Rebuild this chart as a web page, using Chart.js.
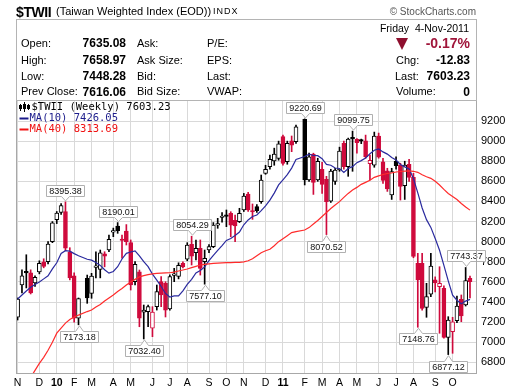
<!DOCTYPE html>
<html lang="en">
<head>
  <meta charset="UTF-8">
  <title>$TWII Weekly</title>
  <script src="https://cdn.jsdelivr.net/npm/chart.js"></script>
  <style>
    body {
      margin: 0;
      background: #fff;
      font-family: 'Liberation Sans', Arial, sans-serif;
    }
    #wrap {
      position: relative;
      width: 520px;
      height: 391px;
      overflow: hidden;
    }
    #chart { position: absolute; left: 0; top: 0; }
    .t { position: absolute; white-space: nowrap; line-height: 1; color: #000; }
    .lbl { font-size: 11px; }
    .val { font-size: 12px; font-weight: bold; }
    #info {
      position: absolute;
      left: 16px; top: 19px;
      width: 461px; height: 82px;
      box-sizing: border-box;
      border: 1px solid #b4b4b4;
    }
    #arrow {
      position: absolute;
      left: 396px; top: 38px;
      width: 0; height: 0;
      border-left: 6.5px solid transparent;
      border-right: 6.5px solid transparent;
      border-top: 12px solid #8e0f2e;
    }
  </style>
</head>
<body>
<div id="wrap">
  <canvas id="chart" width="520" height="391"></canvas>
  <div id="info"></div>

  <div class="t" style="left:16px;top:5px;font-size:14px;font-weight:bold;letter-spacing:-0.4px">$TWII</div>
  <div class="t" style="left:56px;top:6px;font-size:11px">(Taiwan Weighted Index (EOD))</div>
  <div class="t" style="left:213px;top:7px;font-size:9px;letter-spacing:1px">INDX</div>
  <div class="t" style="right:44px;top:7px;font-size:10px;color:#555">© StockCharts.com</div>

  <div class="t lbl" style="left:21px;top:38px">Open:</div>
  <div class="t lbl" style="left:21px;top:55px">High:</div>
  <div class="t lbl" style="left:21px;top:71px">Low:</div>
  <div class="t lbl" style="left:21px;top:86px">Prev Close:</div>
  <div class="t val" style="right:394px;top:37px">7635.08</div>
  <div class="t val" style="right:394px;top:54px">7658.97</div>
  <div class="t val" style="right:394px;top:70px">7448.28</div>
  <div class="t val" style="right:394px;top:86px">7616.06</div>

  <div class="t lbl" style="left:137px;top:38px">Ask:</div>
  <div class="t lbl" style="left:137px;top:55px">Ask Size:</div>
  <div class="t lbl" style="left:137px;top:71px">Bid:</div>
  <div class="t lbl" style="left:137px;top:86px">Bid Size:</div>
  <div class="t lbl" style="left:207px;top:38px">P/E:</div>
  <div class="t lbl" style="left:207px;top:55px">EPS:</div>
  <div class="t lbl" style="left:207px;top:71px">Last:</div>
  <div class="t lbl" style="left:207px;top:86px">VWAP:</div>

  <div class="t" style="right:51px;top:23px;font-size:10.5px">Friday&nbsp; 4-Nov-2011</div>
  <div id="arrow"></div>
  <div class="t" style="right:50px;top:36px;font-size:14px;font-weight:bold;color:#a0153a">-0.17%</div>
  <div class="t lbl" style="left:396px;top:55px">Chg:</div>
  <div class="t lbl" style="left:395px;top:71px">Last:</div>
  <div class="t lbl" style="left:396px;top:86px">Volume:</div>
  <div class="t val" style="right:50px;top:54px">-12.83</div>
  <div class="t val" style="right:50px;top:70px">7603.23</div>
  <div class="t val" style="right:50px;top:86px">0</div>
</div>

<script>
  // weekly bars, first week ends Fri 6-Nov-2009, last ends Fri 4-Nov-2011
  const firstWeek = Date.UTC(2009, 10, 6);
  const weekCount = 105;

  const open = [
    7250, 7570, 7705, 7690, 7590, 7700, 7800, 7800, 8000, 8220,
    8290, 8300, 7900, 7660, 7240, null, 7636, 7486, 7745, 7725,
    7880, 7917, 8095, 8155, 8025, 8106, 7990, 7602, 7700, 7300,
    7304, 7140, 7354, 7602, 7586, 7330, 7665, 7655, 7785, 7825,
    7974, 7890, 7934, 7801, 7917, 7950, 8165, 8240, 8265, 8282,
    8212, 8199, 8315, 8474, 8310, 8348, 8397, 8680, 8745, 8802,
    8829, 9044, 8795, 9004, 8994, null, 9217, 8613, 8870, 8613,
    8720, 8620, 8404, 8600, 8713, 8978, 8745, 9028, 9018, 9010,
    9004, 8775, 8762, 9050, 8795, 8705, 8464, 8800, 8762, 8557,
    8769, 8640, 7785, 7785, 7347, 7477, 7620, 7553, 7536, 7049,
    7105, 7214, 7427, 7370, 7636
  ];
  const high = [
    7440, 7720, 7870, 7720, 7660, 7810, 7830, 8000, 8200, 8300,
    8380, 8395.38, 7940, 7690, 7440, null, 7668, 7685, 7900, 7917,
    7900, 8066, 8135, 8190.01, 8066, 8170, 8017, 7801, 7718, 7370,
    7370, 7354, 7569, 7652, 7602, 7670, 7735, 7790, 7800, 7990,
    8054.29, 8017, 8017, 7917, 7970, 8190, 8232, 8290, 8315, 8298,
    8265, 8332, 8480, 8490, 8375, 8370, 8663, 8760, 8860, 8930,
    9000, 9060, 9000, 9051, 9160, null, 9220.69, 8880, 8880, 8830,
    8790, 8650, 8720, 8730, 8940, 9000, 9030, 9099.75, 9025, 9020,
    9060, 8862, 9090, 9080, 8830, 8730, 8730, 8845, 8780, 8800,
    8820, 8680, 7884, 7884, 7586, 7884, 7650, 7751, 7560, 7254,
    7248, 7460, 7470, 7743.37, 7659
  ];
  const low = [
    7221, 7490, 7540, 7480, 7555, 7680, 7740, 7780, 7990, 8180,
    8270, 7910, 7620, 7200, 7173.18, null, 7387, 7437, 7640, 7640,
    7750, 7900, 8050, 8083, 7835, 7967, 7519, 7569, 7154, 7032.40,
    7154, 7055, 7320, 7354, 7251, 7320, 7602, 7630, 7740, 7810,
    7768, 7818, 7668, 7577.10, 7890, 7940, 8133, 8195, 8149, 8049,
    8000, 8190, 8300, 8300, 8222, 8290, 8381, 8670, 8720, 8760,
    8810, 8760, 8770, 8895, 8978, null, 8564, 8600, 8470, 8600,
    8480, 8070.52, 8390, 8570, 8700, 8720, 8650, 8700, 8880, 8975,
    8830, 8613, 8740, 8830, 8580, 8500, 8420, 8720, 8414, 8420,
    8600, 7840, 7148.76, 7320, 7248, 7453, 7500, 7089, 7040, 6877.12,
    6890, 7194, 7204, 7360, 7440
  ];
  const close = [
    7430, 7660, 7690, 7490, 7645, 7785, 7755, 7975, 8188, 8285,
    8360, 7935, 7640, 7240, 7435, null, 7440, 7659, 7752, 7890,
    7855, 8024, 8100, 8110, 8012, 8000, 7570, 7775, 7240, 7320,
    7354, 7300, 7503, 7470, 7320, 7652, 7678, 7765, 7748, 7967,
    7857, 7934, 7735, 7835, 7950, 8166, 8172, 8250, 8252, 8165,
    8156, 8282, 8454, 8315, 8295, 8308, 8613, 8720, 8819, 8872,
    8972, 8779, 8978, 8961, 9143, null, 8613, 8845, 8590, 8800,
    8570, 8397, 8702, 8713, 8902, 8745, 9020, 9022, 8985, 9000,
    8845, 8810, 9051, 8840, 8610, 8525, 8696, 8755, 8550, 8762,
    8640, 7853, 7620, 7337, 7453, 7758, 7590, 7586, 7049, 7221,
    7204, 7360, 7261, 7612, 7603.23
  ];
  const ma10 = [
    7430, 7470, 7510, 7546, 7575, 7600, 7630, 7660, 7730, 7790,
    7883, 7911, 7906, 7881, 7860, null, 7825, 7816, 7793, 7764,
    7721, 7687, 7704, 7751, 7828, 7884, 7897, 7909, 7858, 7801,
    7751, 7678, 7618, 7554, 7485, 7450, 7461, 7460, 7511, 7576,
    7626, 7689, 7713, 7749, 7812, 7864, 7913, 7961, 8012, 8032,
    8062, 8096, 8168, 8216, 8251, 8265, 8309, 8356, 8413, 8483,
    8565, 8615, 8667, 8732, 8817, null, 8847, 8870, 8857, 8855,
    8825, 8768, 8760, 8733, 8728, 8688, 8728, 8746, 8786, 8806,
    8833, 8874, 8909, 8922, 8893, 8871, 8838, 8812, 8768, 8744,
    8724, 8628, 8485, 8335, 8219, 8142, 8032, 7915, 7765, 7611,
    7467, 7418, 7382, 7409, 7426.05
  ];
  const ma40 = [
    6450, 6520, 6590, 6650, 6720, 6790, 6850, 6920, 7000, 7090,
    7140, 7190, 7225, 7250, 7270, null, 7305, 7320, 7350, 7375,
    7410, 7440, 7470, 7505, 7535, 7569, 7600, 7625, 7650, 7662,
    7672, 7680, 7685, 7688, 7690, 7691, 7698, 7708, 7718, 7728,
    7742, 7755, 7768, 7775, 7780, 7785, 7787, 7789, 7791, 7792,
    7794, 7795, 7800, 7810, 7830, 7860, 7890, 7910, 7925, 7960,
    8000, 8030, 8060, 8090, 8100, null, 8116, 8140, 8175, 8210,
    8250, 8290, 8330, 8365, 8398, 8440, 8480, 8514, 8540, 8570,
    8590, 8610, 8640, 8655, 8668, 8678, 8685, 8693, 8698, 8702,
    8705, 8700, 8690, 8665, 8646, 8630, 8600, 8564, 8520, 8480,
    8450, 8420, 8380, 8345, 8313.69
  ];
  const yTicks = [6800, 7000, 7200, 7400, 7600, 7800, 8000, 8200, 8400, 8600, 8800, 9000, 9200];
  const monthNames = ['J', 'F', 'M', 'A', 'M', 'J', 'J', 'A', 'S', 'O', 'N', 'D'];
  // bars whose high / low get a value tag
  const highMarks = [11, 23, 40, 66, 77, 103];
  const lowMarks = [14, 29, 43, 71, 92, 99];

  const RED = '#cf0a3c';
  const BLACK = '#000000';
  const BLUE = '#2a2a9e';
  const MA_RED = '#ff2b2b';

  // month ticks: first week whose Monday falls in a new month
  const monthTicks = [];
  let lastMonth = -1;
  for (let i = 0; i < weekCount; i++) {
    const monday = new Date(firstWeek + (i * 7 - 4) * 864e5);
    const m = monday.getUTCMonth();
    if (m !== lastMonth) {
      const year = m === 0;
      monthTicks.push({
        i,
        text: year ? String(monday.getUTCFullYear()).slice(2) : monthNames[m],
        year
      });
      lastMonth = m;
    }
  }
  const tickText = {};
  monthTicks.forEach(t => { tickText[t.i] = t; });

  const bars = [];
  for (let i = 0; i < weekCount; i++) if (close[i] != null) bars.push(i);

  function colorOf(i) {
    const prev = close[i - 1];
    return (prev != null && close[i] < prev) ? RED : BLACK;
  }
  function fillOf(i) {
    return close[i] < open[i] ? colorOf(i) : '#ffffff';
  }

  const overlay = {
    id: 'overlay',
    afterDatasetsDraw(chart) {
      const { ctx, scales: { x, y } } = chart;
      ctx.save();
      ctx.font = '9px "Liberation Sans", Arial, sans-serif';
      ctx.textAlign = 'center';
      ctx.textBaseline = 'middle';
      const tag = (i, v, above) => {
        const cx = x.getPixelForValue(i);
        const py = y.getPixelForValue(v);
        const txt = v.toFixed(2);
        const w = Math.round(ctx.measureText(txt).width) + 5;
        const h = 11;
        const bx = Math.round(cx - w / 2) + 0.5;
        const px = Math.round(cx) + 0.5;
        ctx.beginPath();
        let top;
        if (above) {
          const bottom = Math.round(py - 6) + 0.5;
          top = bottom - h;
          ctx.moveTo(bx, top);
          ctx.lineTo(bx + w, top);
          ctx.lineTo(bx + w, bottom);
          ctx.lineTo(px + 4, bottom);
          ctx.lineTo(px, py - 1);
          ctx.lineTo(px - 4, bottom);
          ctx.lineTo(bx, bottom);
        } else {
          top = Math.round(py + 6) + 0.5;
          ctx.moveTo(bx, top);
          ctx.lineTo(px - 4, top);
          ctx.lineTo(px, py + 1);
          ctx.lineTo(px + 4, top);
          ctx.lineTo(bx + w, top);
          ctx.lineTo(bx + w, top + h);
          ctx.lineTo(bx, top + h);
        }
        ctx.closePath();
        ctx.fillStyle = '#ffffff';
        ctx.fill();
        ctx.strokeStyle = '#b0b0b0';
        ctx.lineWidth = 1;
        ctx.stroke();
        ctx.fillStyle = '#111';
        ctx.fillText(txt, bx + w / 2, top + h / 2 + 0.5);
      };
      highMarks.forEach(i => tag(i, high[i], true));
      lowMarks.forEach(i => tag(i, low[i], false));
      ctx.restore();
    },
    afterDraw(chart) {
      const { ctx, chartArea: a } = chart;
      ctx.save();
      // plot frame
      ctx.strokeStyle = '#a8a8a8';
      ctx.lineWidth = 1;
      ctx.strokeRect(a.left + 0.5, a.top + 0.5, a.right - a.left - 1, a.bottom - a.top - 1);

      // legend
      ctx.fillStyle = BLACK;
      ctx.strokeStyle = BLACK;
      ctx.beginPath();
      ctx.moveTo(20.5, 104); ctx.lineTo(20.5, 111);
      ctx.moveTo(24.5, 102); ctx.lineTo(24.5, 112);
      ctx.moveTo(28.5, 104); ctx.lineTo(28.5, 110);
      ctx.stroke();
      ctx.fillRect(19, 105, 3, 4);
      ctx.fillRect(23, 104, 3, 5);
      ctx.strokeRect(27.5, 105.5, 2, 3);

      ctx.font = '10.5px "DejaVu Sans Mono", monospace';
      ctx.textAlign = 'left';
      ctx.textBaseline = 'middle';
      const last = weekCount - 1;
      ctx.fillText('$TWII (Weekly) ' + close[last].toFixed(2), 31.5, 107.5);

      ctx.lineWidth = 2;
      ctx.strokeStyle = '#1c1c8c';
      ctx.beginPath(); ctx.moveTo(19.5, 118.5); ctx.lineTo(28.5, 118.5); ctx.stroke();
      ctx.fillStyle = '#1c1c8c';
      ctx.fillText('MA(10) ' + ma10[last].toFixed(2), 29.5, 118.5);

      ctx.strokeStyle = '#f01010';
      ctx.beginPath(); ctx.moveTo(19.5, 129.5); ctx.lineTo(28.5, 129.5); ctx.stroke();
      ctx.fillStyle = '#f01010';
      ctx.fillText('MA(40) ' + ma40[last].toFixed(2), 29.5, 129.5);
      ctx.restore();
    }
  };

  Chart.defaults.font.family = "'Liberation Sans', Arial, sans-serif";
  Chart.defaults.color = '#000';

  new Chart(document.getElementById('chart'), {
    type: 'bar',
    data: {
      datasets: [
        {
          type: 'line',
          label: 'MA(40)',
          data: ma40.map((v, i) => ({ x: i, y: v })),
          borderColor: MA_RED,
          borderWidth: 1.2,
          pointRadius: 0,
          spanGaps: true,
          order: 0
        },
        {
          type: 'line',
          label: 'MA(10)',
          data: ma10.map((v, i) => ({ x: i, y: v })),
          borderColor: BLUE,
          borderWidth: 1.2,
          pointRadius: 0,
          spanGaps: true,
          order: 0
        },
        {
          label: 'wick',
          data: bars.map(i => ({ x: i, y: [low[i], high[i]] })),
          backgroundColor: c => colorOf(c.raw.x),
          barThickness: 1,
          grouped: false,
          order: 2
        },
        {
          label: 'body',
          data: bars.map(i => ({ x: i, y: [open[i], close[i]] })),
          backgroundColor: c => fillOf(c.raw.x),
          borderColor: c => colorOf(c.raw.x),
          borderWidth: 1,
          borderSkipped: false,
          barThickness: 4,
          minBarLength: 1.5,
          grouped: false,
          order: 1
        }
      ]
    },
    options: {
      responsive: false,
      animation: false,
      layout: { padding: { left: 16, top: 100, right: 0, bottom: 0 } },
      plugins: {
        legend: { display: false },
        tooltip: { enabled: false }
      },
      scales: {
        x: {
          type: 'linear',
          min: -0.37,
          max: 105.61,
          offset: false,
          border: { display: false },
          grid: { color: '#d9d9d9', drawTicks: false, offset: false },
          afterBuildTicks: s => { s.ticks = monthTicks.map(t => ({ value: t.i })); },
          afterFit: s => { s.height = 17; },
          ticks: {
            padding: 3,
            maxRotation: 0,
            autoSkip: false,
            callback: v => (tickText[v] ? tickText[v].text : ''),
            font: c => ({
              size: 10.5,
              weight: (c.tick && tickText[c.tick.value] && tickText[c.tick.value].year) ? 'bold' : 'normal'
            })
          }
        },
        y: {
          position: 'right',
          min: 6684,
          max: 9409,
          border: { display: false },
          grid: { color: '#d9d9d9', drawTicks: false },
          afterBuildTicks: s => { s.ticks = yTicks.map(v => ({ value: v })); },
          afterFit: s => { s.width = 43; },
          ticks: {
            padding: 4,
            font: { size: 11 },
            callback: v => String(v)
          }
        }
      }
    },
    plugins: [overlay]
  });
</script>
</body>
</html>
